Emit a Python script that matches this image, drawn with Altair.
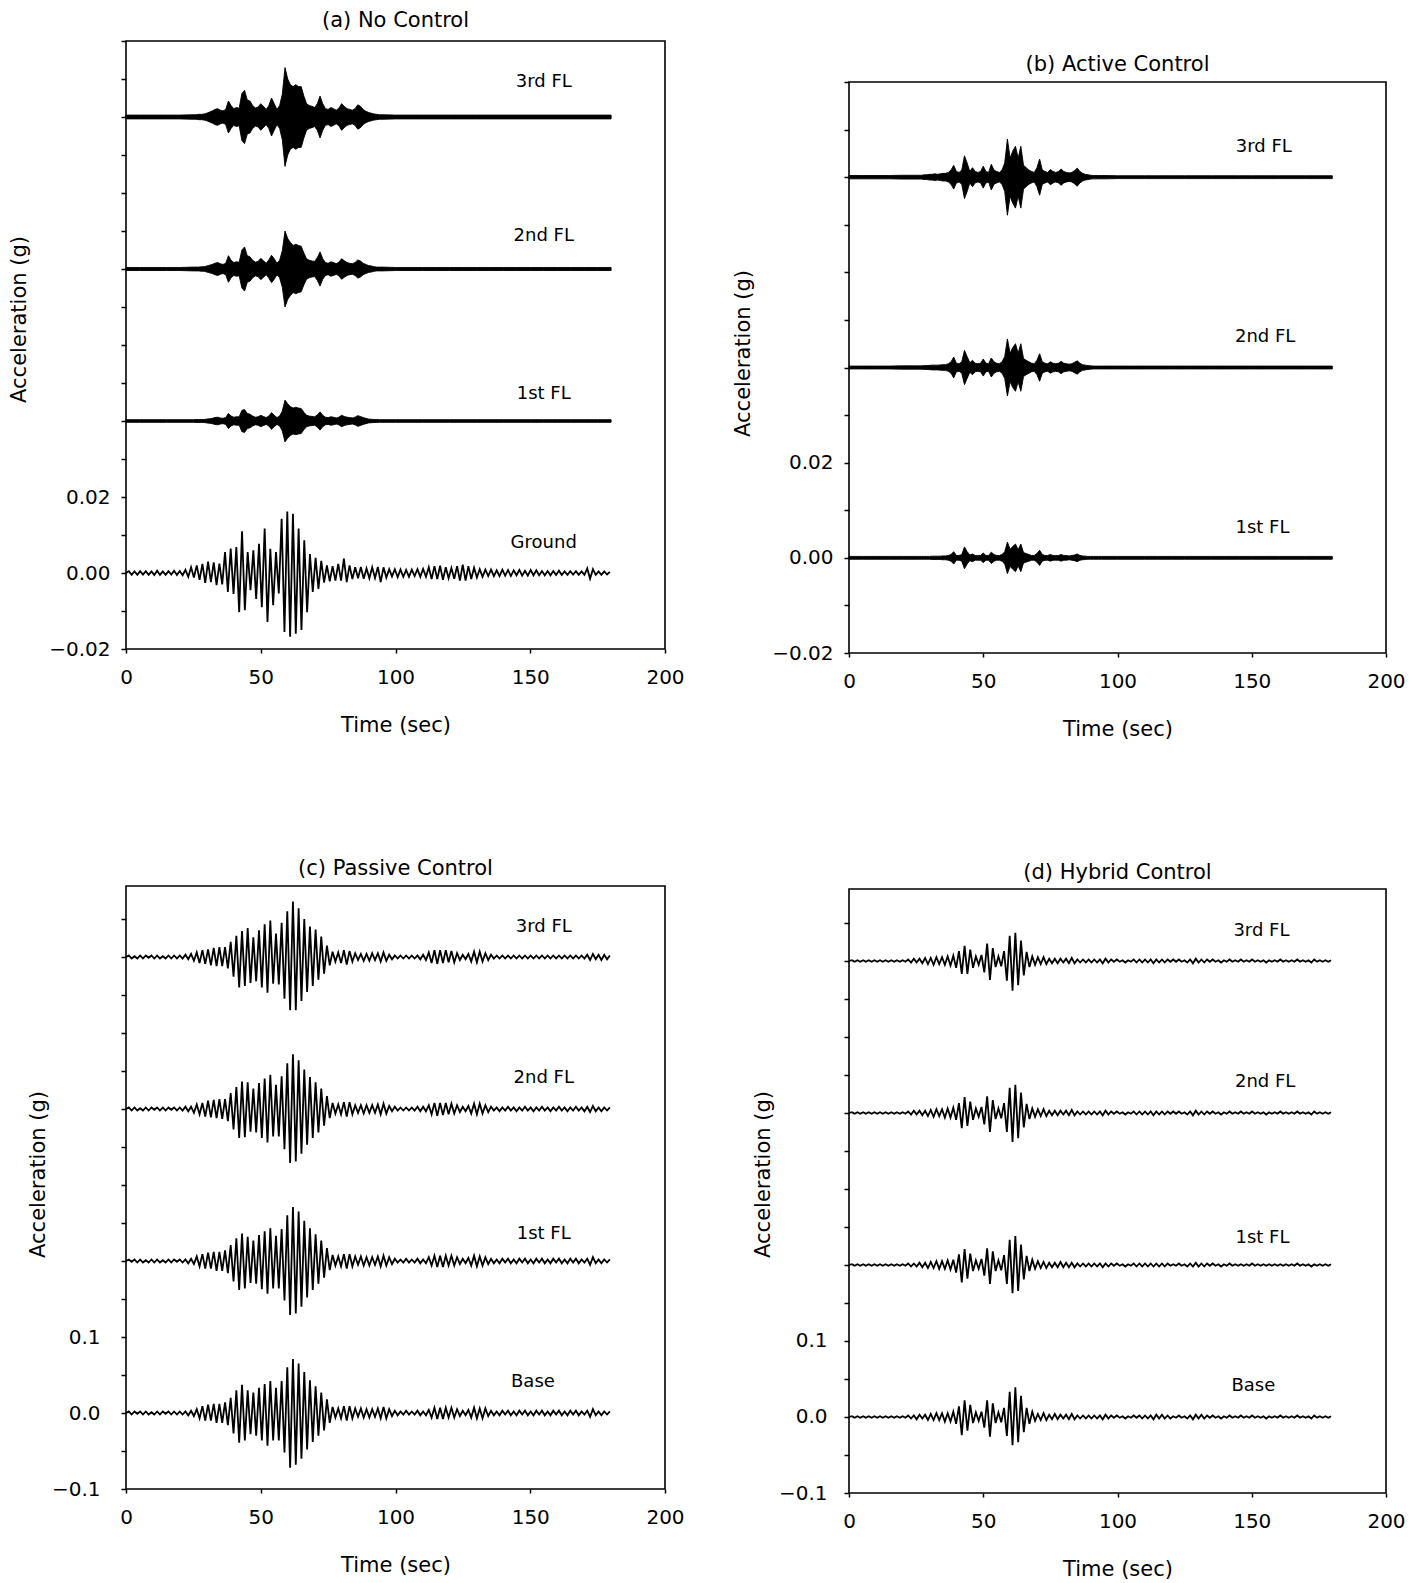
import numpy as np
import pandas as pd
import altair as alt

FONT = "DejaVu Sans"

# ---------------- data ----------------
# Oscillating records: successive peak/trough values (mg), one every OSC_DT seconds
OSC_DT = 1.05

GROUND_A = [
    0, 0.5, -0.5, 0.4, -0.5, 0.5, -0.4, 0.5, -0.5, 0.4,
    -0.5, 0.6, -0.5, 0.4, -0.5, 0.5, -0.4, 0.6, -0.5, 0.5,
    -0.6, 0.8, -1.0, 1.5, -1.2, 2.0, -1.8, 2.4, -2.6, 3.0,
    -2.4, 2.8, -3.2, 2.5, -3.0, 5.5, -5.0, 6.4, -5.5, 6.8,
    -10.3, 11.0, -9.8, 5.5, -4.5, 6.0, -6.8, 7.7, -9.0, 11.7,
    -12.9, 6.4, -8.5, 5.5, -5.4, 14.3, -15.5, 16.2, -16.8, 15.6,
    -16.0, 11.7, -15.0, 8.6, -10.3, 5.0, -5.0, 4.0, -4.2, 3.2,
    -2.5, 2.0, -2.2, 1.8, -2.0, 2.4, -2.0, 3.8, -2.4, 2.0,
    -1.6, 1.5, -1.4, 1.6, -1.5, 1.2, -1.4, 1.5, -1.3, 1.6,
    -2.4, 1.5, -1.2, 1.0, -0.9, 1.0, -1.1, 0.9, -1.0, 0.8,
    -1.0, 0.9, -0.8, 1.0, -1.0, 1.1, -1.0, 1.5, -1.6, 1.8,
    -1.6, 1.9, -1.8, 1.5, -1.4, 1.3, -1.5, 1.8, -2.0, 2.2,
    -2.0, 1.8, -1.6, 1.4, -1.2, 1.0, -1.0, 0.9, -0.8, 0.9,
    -0.8, 0.7, -0.8, 0.9, -0.7, 0.8, -0.8, 0.7, -0.6, 0.8,
    -0.7, 0.6, -0.7, 0.8, -0.6, 0.7, -0.6, 0.5, -0.6, 0.5,
    -0.6, 0.5, -0.5, 0.6, -0.5, 0.4, -0.5, 0.5, -0.4, 0.5,
    -0.5, 0.4, -0.5, 1.2, -1.5, 1.0, -0.5, 0.4, -0.5, 0.4,
    -0.4, 0.3,
]

PASSIVE_BASE = [
    0, 2, -2, 2, -1, 2, -2, 2, -2, 1,
    -2, 2, -2, 2, -1, 2, -2, 2, -2, 2,
    -2, 2, -3, 3, -4, 5, -7, 9, -10, 11,
    -10, 12, -13, 12, -13, 14, -16, 20, -27, 30,
    -39, 37, -36, 30, -28, 27, -30, 33, -36, 38,
    -43, 42, -36, 33, -36, 42, -52, 60, -72, 71,
    -68, 65, -60, 54, -48, 43, -38, 35, -30, 27,
    -23, 18, -13, 8, -6, 6, -7, 9, -10, 9,
    -7, 6, -5, 6, -6, 5, -6, 5, -5, 6,
    -7, 8, -7, 5, -4, 3, -3, 2, -2, 3,
    -2, 2, -2, 3, -3, 2, -3, 4, -6, 7,
    -8, 7, -8, 7, -6, 7, -6, 5, -4, 3,
    -3, 4, -6, 7, -7, 6, -7, 6, -4, 3,
    -3, 2, -3, 3, -2, 3, -3, 2, -3, 3,
    -2, 3, -3, 2, -3, 3, -2, 3, -3, 2,
    -3, 3, -2, 3, -3, 2, -3, 3, -2, 3,
    -3, 2, -2, 3, -5, 5, -3, 2, -3, 2,
    -2, 2,
]

PASSIVE_1ST = [
    0, 2, -1, 2, -2, 2, -2, 1, -2, 2,
    -2, 2, -2, 1, -2, 2, -2, 2, -1, 2,
    -2, 2, -3, 3, -4, 6, -7, 9, -10, 11,
    -10, 12, -13, 12, -13, 14, -16, 21, -27, 30,
    -38, 36, -36, 32, -29, 27, -30, 34, -37, 39,
    -43, 43, -36, 33, -36, 42, -52, 60, -71, 71,
    -69, 65, -60, 53, -48, 43, -38, 35, -30, 27,
    -22, 17, -12, 8, -6, 6, -7, 9, -10, 9,
    -7, 6, -5, 6, -6, 5, -6, 5, -5, 6,
    -7, 7, -6, 5, -4, 3, -2, 2, -2, 3,
    -2, 2, -2, 3, -3, 2, -3, 5, -6, 7,
    -8, 7, -8, 7, -6, 7, -6, 5, -4, 3,
    -3, 4, -6, 7, -7, 6, -6, 5, -4, 3,
    -3, 2, -3, 3, -2, 3, -3, 2, -3, 3,
    -2, 3, -3, 2, -3, 3, -2, 3, -3, 2,
    -3, 3, -2, 3, -3, 2, -3, 3, -2, 3,
    -3, 2, -2, 3, -5, 5, -3, 2, -3, 2,
    -2, 2,
]

PASSIVE_2ND = [
    0, 2, -2, 2, -2, 1, -2, 2, -2, 2,
    -1, 2, -2, 2, -2, 2, -1, 2, -2, 2,
    -2, 3, -3, 3, -5, 6, -7, 8, -10, 11,
    -11, 12, -12, 13, -13, 13, -16, 21, -27, 29,
    -38, 36, -37, 35, -30, 27, -31, 34, -38, 40,
    -44, 45, -36, 32, -36, 43, -53, 60, -71, 72,
    -69, 64, -59, 52, -47, 42, -38, 35, -31, 27,
    -22, 17, -12, 8, -6, 6, -7, 9, -10, 9,
    -7, 5, -5, 5, -6, 5, -5, 5, -5, 6,
    -7, 7, -6, 4, -3, 3, -2, 2, -2, 2,
    -2, 2, -2, 3, -3, 3, -3, 5, -7, 8,
    -9, 8, -8, 8, -7, 7, -6, 5, -4, 3,
    -3, 4, -6, 7, -7, 7, -6, 5, -4, 3,
    -2, 2, -3, 2, -2, 3, -2, 2, -3, 2,
    -2, 3, -2, 2, -3, 2, -2, 3, -2, 2,
    -3, 2, -2, 3, -2, 2, -3, 2, -2, 3,
    -2, 2, -3, 3, -4, 4, -3, 2, -3, 2,
    -2, 2,
]

PASSIVE_3RD = [
    0, 2, -2, 1, -2, 2, -2, 2, -1, 2,
    -2, 2, -2, 1, -2, 2, -2, 2, -2, 2,
    -2, 3, -3, 4, -5, 6, -8, 9, -9, 10,
    -11, 12, -12, 13, -12, 13, -15, 20, -26, 28,
    -40, 34, -38, 38, -34, 26, -32, 35, -40, 43,
    -47, 48, -35, 31, -36, 45, -55, 60, -70, 73,
    -70, 64, -58, 50, -46, 40, -38, 36, -30, 27,
    -22, 15, -11, 7, -6, 6, -8, 9, -10, 8,
    -6, 5, -4, 4, -5, 4, -5, 5, -4, 5,
    -6, 6, -5, 3, -3, 2, -2, 2, -2, 2,
    -2, 2, -2, 2, -3, 3, -4, 6, -8, 9,
    -9, 9, -8, 9, -7, 8, -7, 5, -4, 3,
    -3, 4, -6, 7, -7, 7, -6, 5, -4, 3,
    -2, 2, -2, 2, -2, 2, -2, 2, -2, 2,
    -2, 2, -2, 2, -2, 2, -2, 2, -2, 2,
    -2, 2, -2, 2, -2, 2, -2, 2, -2, 2,
    -2, 2, -2, 3, -4, 4, -3, 3, -4, 3,
    -3, 2,
]

HYBRID_BASE = [
    0, 1, -1, 1, -1, 1, -1, 1, -1, 1,
    -1, 1, -1, 1, -1, 1, -1, 1, -1, 1,
    -1, 2, -2, 2, -3, 3, -2, 3, -4, 4,
    -4, 5, -4, 5, -6, 5, -6, 7, -9, 14,
    -24, 22, -18, 16, -8, 6, -5, 7, -14, 22,
    -26, 18, -8, 6, -7, 12, -25, 33, -37, 39,
    -33, 28, -20, 12, -9, 7, -5, 4, -4, 5,
    -4, 3, -3, 4, -3, 3, -2, 3, -3, 4,
    -3, 2, -2, 2, -2, 2, -2, 2, -2, 2,
    -3, 3, -2, 2, -1, 2, -1, 1, -2, 1,
    -1, 2, -1, 2, -2, 2, -2, 2, -3, 3,
    -2, 3, -2, 2, -2, 1, -1, 2, -1, 1,
    -2, 2, -3, 3, -2, 3, -2, 2, -1, 2,
    -1, 1, -2, 1, -1, 2, -1, 1, -1, 2,
    -1, 1, -1, 2, -1, 1, -1, 1, -2, 1,
    -1, 1, -1, 2, -1, 1, -1, 1, -1, 2,
    -1, 1, -1, 1, -2, 2, -1, 1, -1, 1,
    -1, 1,
]

HYBRID_1ST = [
    0, 1, -1, 1, -1, 1, -1, 1, -1, 1,
    -1, 1, -1, 1, -1, 1, -1, 1, -1, 1,
    -1, 2, -2, 2, -2, 3, -3, 3, -4, 4,
    -4, 5, -5, 5, -5, 6, -6, 7, -10, 14,
    -23, 21, -18, 15, -8, 6, -5, 8, -14, 22,
    -25, 18, -8, 6, -7, 13, -25, 33, -37, 38,
    -34, 27, -19, 12, -8, 7, -5, 5, -4, 4,
    -4, 3, -3, 3, -3, 4, -3, 3, -3, 3,
    -3, 2, -2, 2, -2, 2, -2, 2, -2, 2,
    -3, 2, -2, 2, -1, 2, -1, 1, -2, 1,
    -1, 2, -2, 2, -2, 2, -2, 2, -2, 2,
    -2, 2, -2, 2, -1, 1, -1, 2, -1, 1,
    -2, 2, -2, 3, -2, 2, -2, 2, -1, 2,
    -1, 1, -2, 1, -1, 2, -1, 1, -1, 1,
    -1, 1, -1, 2, -1, 1, -1, 1, -1, 1,
    -1, 1, -1, 1, -1, 1, -1, 1, -1, 2,
    -1, 1, -1, 1, -2, 1, -1, 1, -1, 1,
    -1, 1,
]

HYBRID_2ND = [
    0, 1, -1, 1, -1, 1, -1, 1, -1, 1,
    -1, 1, -1, 1, -1, 1, -1, 1, -1, 1,
    -1, 2, -2, 3, -2, 3, -3, 3, -4, 4,
    -5, 5, -4, 5, -6, 6, -6, 7, -9, 13,
    -20, 21, -17, 15, -9, 6, -5, 8, -15, 22,
    -25, 17, -8, 6, -7, 13, -25, 33, -38, 37,
    -33, 27, -19, 12, -8, 6, -5, 5, -4, 5,
    -4, 3, -3, 3, -3, 3, -2, 3, -3, 4,
    -3, 2, -2, 2, -2, 2, -2, 2, -2, 2,
    -3, 3, -2, 2, -1, 2, -1, 1, -2, 1,
    -1, 2, -2, 2, -2, 2, -2, 2, -3, 2,
    -2, 2, -2, 2, -1, 2, -1, 2, -1, 1,
    -2, 2, -3, 3, -2, 2, -2, 2, -1, 2,
    -1, 1, -2, 1, -1, 2, -1, 1, -1, 2,
    -1, 1, -1, 2, -1, 1, -1, 1, -2, 1,
    -1, 1, -1, 2, -1, 1, -1, 1, -1, 2,
    -1, 1, -1, 1, -2, 2, -1, 1, -1, 1,
    -1, 1,
]

HYBRID_3RD = [
    0, 1, -1, 1, -1, 1, -1, 1, -1, 1,
    -1, 1, -1, 1, -1, 1, -1, 1, -1, 1,
    -1, 2, -2, 3, -2, 3, -3, 4, -4, 4,
    -5, 5, -4, 5, -5, 6, -6, 7, -9, 13,
    -17, 20, -17, 15, -9, 6, -5, 8, -15, 23,
    -25, 17, -8, 6, -7, 13, -26, 33, -39, 37,
    -32, 27, -19, 12, -8, 6, -5, 5, -4, 5,
    -4, 3, -3, 3, -3, 3, -2, 3, -3, 4,
    -3, 2, -2, 2, -2, 2, -2, 2, -2, 2,
    -3, 3, -2, 2, -1, 2, -1, 1, -2, 1,
    -1, 2, -2, 2, -2, 2, -2, 2, -3, 2,
    -2, 2, -2, 2, -1, 2, -1, 2, -1, 1,
    -2, 2, -3, 3, -2, 2, -2, 2, -1, 2,
    -1, 1, -2, 1, -1, 2, -1, 1, -1, 2,
    -1, 1, -1, 2, -1, 1, -1, 1, -2, 1,
    -1, 1, -1, 2, -1, 1, -1, 1, -1, 2,
    -1, 1, -1, 1, -2, 2, -1, 1, -1, 1,
    -1, 1,
]

# Dense (high-frequency) records: half-width of the black band (mg) at ENV_T seconds
ENV_T = [0, 5, 10, 15, 20, 25] + list(range(26, 96)) + list(range(100, 181, 5))

NOCTRL_3RD = [
    0.5, 0.5, 0.5, 0.5, 0.5, 0.6,
    0.6, 0.7, 0.7, 0.8, 1.0, 1.3, 1.6, 2.0, 2.2, 1.8,
    1.6, 2.0, 4.2, 3.0, 2.2, 2.5, 2.3, 6.2, 7.0, 4.5,
    4.2, 3.0, 2.4, 2.6, 3.5, 2.8, 2.0, 3.0, 5.0, 3.5,
    2.0, 3.0, 6.0, 13.0, 10.0, 8.5, 8.0, 8.5, 8.0, 8.0,
    5.5, 3.5, 3.0, 2.8, 2.5, 3.5, 5.5, 3.5, 2.2, 2.0,
    2.5, 2.2, 1.8, 2.3, 3.5, 2.8, 2.2, 2.0, 1.8, 2.2,
    3.2, 2.8, 2.0, 1.5, 1.2, 1.0, 0.8, 0.7, 0.6, 0.6,
    0.5, 0.5, 0.5, 0.5, 0.5, 0.5, 0.5, 0.5, 0.5, 0.5, 0.5, 0.5, 0.5, 0.5, 0.5, 0.5, 0.5,
]
NOCTRL_2ND = [
    0.4, 0.4, 0.4, 0.4, 0.4, 0.5,
    0.5, 0.5, 0.6, 0.6, 0.8, 1.0, 1.2, 1.5, 1.7, 1.4,
    1.2, 1.5, 3.5, 2.3, 1.7, 1.9, 1.8, 5.0, 5.8, 3.5,
    3.2, 2.3, 1.8, 2.0, 2.8, 2.2, 1.5, 2.4, 3.6, 2.7,
    1.5, 2.3, 4.8, 10.0, 8.0, 7.0, 6.2, 6.5, 6.2, 6.0,
    4.2, 2.7, 2.3, 2.1, 2.0, 3.0, 4.5, 2.7, 1.7, 1.5,
    1.9, 1.7, 1.4, 1.8, 2.7, 2.2, 1.7, 1.5, 1.4, 1.7,
    2.4, 2.1, 1.5, 1.2, 0.9, 0.8, 0.6, 0.5, 0.5, 0.5,
    0.4, 0.4, 0.4, 0.4, 0.4, 0.4, 0.4, 0.4, 0.4, 0.4, 0.4, 0.4, 0.4, 0.4, 0.4, 0.4, 0.4,
]
NOCTRL_1ST = [
    0.35, 0.35, 0.35, 0.35, 0.35, 0.35,
    0.4, 0.4, 0.4, 0.4, 0.5, 0.6, 0.7, 0.9, 1.0, 0.8,
    0.7, 0.9, 2.0, 1.3, 1.0, 1.1, 1.1, 2.8, 3.0, 2.0,
    1.8, 1.3, 1.0, 1.1, 1.5, 1.2, 0.9, 1.3, 2.2, 1.5,
    0.9, 1.3, 2.6, 5.5, 4.5, 3.8, 3.4, 3.6, 3.4, 3.3,
    2.3, 1.5, 1.3, 1.2, 1.1, 1.6, 2.4, 1.5, 1.0, 0.9,
    1.1, 1.0, 0.8, 1.0, 1.5, 1.2, 1.0, 0.9, 0.8, 1.0,
    1.4, 1.2, 0.9, 0.7, 0.5, 0.45, 0.4, 0.4, 0.35, 0.35,
    0.35, 0.35, 0.35, 0.35, 0.35, 0.35, 0.35, 0.35, 0.35, 0.35, 0.35, 0.35, 0.35, 0.35, 0.35, 0.35, 0.35,
]
ACTIVE_3RD = [
    0.35, 0.35, 0.35, 0.35, 0.4, 0.4,
    0.4, 0.4, 0.5, 0.5, 0.6, 0.6, 0.7, 0.6, 0.7, 0.8,
    0.8, 1.0, 1.5, 2.5, 1.2, 1.0, 1.5, 4.5, 3.0, 1.2,
    2.0, 1.2, 1.0, 1.2, 2.3, 1.2, 1.0, 2.7, 1.5, 1.2,
    1.0, 1.5, 3.0, 8.0, 4.0, 5.5, 6.5, 4.0, 6.5, 2.5,
    2.0, 1.5, 1.2, 1.0, 2.0, 3.8, 1.5, 1.2, 1.0, 1.6,
    1.2, 1.0, 1.2, 1.7, 1.2, 1.0, 0.9, 1.0, 1.4, 1.9,
    1.2, 0.8, 0.6, 0.5, 0.4, 0.35, 0.35, 0.35, 0.35, 0.35,
    0.3, 0.3, 0.3, 0.3, 0.3, 0.3, 0.3, 0.3, 0.3, 0.3, 0.3, 0.3, 0.3, 0.3, 0.3, 0.3, 0.3,
]
ACTIVE_2ND = [
    0.3, 0.3, 0.3, 0.3, 0.35, 0.35,
    0.35, 0.35, 0.4, 0.4, 0.45, 0.5, 0.5, 0.5, 0.55, 0.6,
    0.6, 0.8, 1.2, 2.2, 0.9, 0.8, 1.2, 3.6, 2.3, 1.0,
    1.5, 0.9, 0.8, 0.9, 1.8, 0.9, 0.8, 2.0, 1.2, 0.9,
    0.8, 1.2, 2.3, 6.0, 3.0, 4.2, 5.0, 3.0, 5.0, 1.9,
    1.5, 1.2, 0.9, 0.8, 1.5, 2.9, 1.2, 0.9, 0.8, 1.2,
    0.9, 0.8, 0.9, 1.3, 0.9, 0.8, 0.7, 0.8, 1.1, 1.4,
    0.9, 0.6, 0.5, 0.4, 0.35, 0.3, 0.3, 0.3, 0.3, 0.3,
    0.3, 0.3, 0.3, 0.3, 0.3, 0.3, 0.3, 0.3, 0.3, 0.3, 0.3, 0.3, 0.3, 0.3, 0.3, 0.3, 0.3,
]
ACTIVE_1ST = [
    0.3, 0.3, 0.3, 0.3, 0.3, 0.3,
    0.3, 0.3, 0.3, 0.3, 0.3, 0.35, 0.35, 0.35, 0.35, 0.4,
    0.4, 0.5, 0.7, 1.3, 0.5, 0.5, 0.7, 2.3, 1.3, 0.6,
    0.8, 0.5, 0.5, 0.5, 1.0, 0.5, 0.5, 1.2, 0.7, 0.5,
    0.5, 0.7, 1.3, 3.3, 1.8, 2.4, 2.9, 1.7, 2.9, 1.1,
    0.9, 0.7, 0.5, 0.5, 0.9, 1.6, 0.7, 0.5, 0.5, 0.7,
    0.5, 0.5, 0.5, 0.7, 0.5, 0.5, 0.4, 0.5, 0.6, 0.8,
    0.5, 0.4, 0.35, 0.3, 0.3, 0.3, 0.3, 0.3, 0.3, 0.3,
    0.3, 0.3, 0.3, 0.3, 0.3, 0.3, 0.3, 0.3, 0.3, 0.3, 0.3, 0.3, 0.3, 0.3, 0.3, 0.3, 0.3,
]

MG = 0.001  # values above are in milli-g

# ---------------- helpers ----------------
def osc_frame(name, values, offset):
    v = np.asarray(values, dtype=float) * MG
    return pd.DataFrame({"t": np.arange(len(v)) * OSC_DT, "y": offset + v, "trace": name})


def env_frame(name, amps, offset):
    n = min(len(amps), len(ENV_T))
    a = np.asarray(amps[:n], dtype=float) * MG
    return pd.DataFrame({"t": ENV_T[:n], "lo": offset - a, "hi": offset + a, "trace": name})


def xenc(field):
    return alt.X(
        f"{field}:Q",
        scale=alt.Scale(domain=[0, 200], nice=False, zero=False),
        axis=alt.Axis(
            values=[0, 50, 100, 150, 200], format="d", title="Time (sec)",
            titleY=76, titleBaseline="middle", titleAlign="center",
            tickSize=4, labelPadding=14, grid=False, domain=False, labelFlush=False,
        ),
    )


def yenc(field, dom, top, step, major, fmt, tx, ty, lpad):
    n = int(np.floor((top - dom[0]) / step + 1e-6))
    ticks = [round(dom[0] + k * step, 4) + 0.0 for k in range(n + 1)]
    expr = (f"(abs(abs(datum.value) - {major}) < 1e-6 || abs(datum.value) < 1e-6)"
            f" ? format(datum.value, '{fmt}') : ''")
    return alt.Y(
        f"{field}:Q",
        scale=alt.Scale(domain=dom, nice=False, zero=False),
        axis=alt.Axis(
            values=ticks, labelExpr=expr, title="Acceleration (g)",
            titleX=tx, titleY=ty, titleAngle=270, titleAlign="center", titleBaseline="middle",
            tickSize=5, labelPadding=lpad, grid=False, domain=False, labelFlush=False,
        ),
    )


def panel(title, title_y, width, height, dom, top, step, major, fmt, tx, ty, lpad,
          lines=None, areas=None, labels=None):
    Y = lambda f: yenc(f, dom, top, step, major, fmt, tx, ty, lpad)
    frame = pd.DataFrame({"x0": [0.0], "x1": [200.0], "y0": [dom[0]], "y1": [top]})
    layers = [
        alt.Chart(frame).mark_rect(fillOpacity=0, stroke="black", strokeWidth=1.6).encode(
            x=xenc("x0"), x2="x1:Q", y=Y("y0"), y2="y1:Q")
    ]
    if areas is not None:
        layers.append(
            alt.Chart(areas).mark_area(color="black", stroke="black", strokeWidth=0.9,
                                       interpolate="linear").encode(
                x=xenc("t"), y=Y("lo"), y2="hi:Q", detail="trace:N")
        )
    if lines is not None:
        layers.append(
            alt.Chart(lines).mark_line(color="black", strokeWidth=1.8,
                                       interpolate="linear").encode(
                x=xenc("t"), y=Y("y"), detail="trace:N")
        )
    layers.append(
        alt.Chart(labels).mark_text(font=FONT, fontSize=18, color="black",
                                    align="center", baseline="middle").encode(
            x=xenc("t"), y=Y("y"), text="label:N")
    )
    ttl = pd.DataFrame({"t": [100.0], "y": [title_y], "label": [title]})
    layers.append(
        alt.Chart(ttl).mark_text(font=FONT, fontSize=21, color="black",
                                 align="center", baseline="middle").encode(
            x=xenc("t"), y=Y("y"), text="label:N")
    )
    return alt.layer(*layers).properties(width=width, height=height)


# ---------------- panels ----------------
a_lines = osc_frame("Ground", GROUND_A, 0.0)
a_areas = pd.concat([
    env_frame("1st FL", NOCTRL_1ST, 0.04),
    env_frame("2nd FL", NOCTRL_2ND, 0.08),
    env_frame("3rd FL", NOCTRL_3RD, 0.12),
])
a_labels = pd.DataFrame({"t": [155, 155, 155, 155],
                         "y": [0.1292, 0.0887, 0.0472, 0.0079],
                         "label": ["3rd FL", "2nd FL", "1st FL", "Ground"]})
pa = panel("(a) No Control", 0.14526, 539, 608, [-0.02, 0.14], 0.14, 0.01, 0.02, ".2f",
           -107, 278, 11, lines=a_lines, areas=a_areas, labels=a_labels)

b_areas = pd.concat([
    env_frame("1st FL", ACTIVE_1ST, 0.0),
    env_frame("2nd FL", ACTIVE_2ND, 0.04),
    env_frame("3rd FL", ACTIVE_3RD, 0.08),
])
b_labels = pd.DataFrame({"t": [154.5, 155, 154],
                         "y": [0.0863, 0.0464, 0.0063],
                         "label": ["3rd FL", "2nd FL", "1st FL"]})
pb = panel("(b) Active Control", 0.10366, 537, 612, [-0.02, 0.10862], 0.10, 0.01, 0.02, ".2f",
           -106, 312, 11, areas=b_areas, labels=b_labels)

c_lines = pd.concat([
    osc_frame("Base", PASSIVE_BASE, 0.0),
    osc_frame("1st FL", PASSIVE_1ST, 0.2),
    osc_frame("2nd FL", PASSIVE_2ND, 0.4),
    osc_frame("3rd FL", PASSIVE_3RD, 0.6),
])
c_labels = pd.DataFrame({"t": [155, 155, 155, 151],
                         "y": [0.640, 0.441, 0.235, 0.0413],
                         "label": ["3rd FL", "2nd FL", "1st FL", "Base"]})
pc = panel("(c) Passive Control", 0.7158, 539, 608, [-0.1, 0.7], 0.6934, 0.05, 0.1, ".1f",
           -88, 293, 21, lines=c_lines, labels=c_labels)

d_lines = pd.concat([
    osc_frame("Base", HYBRID_BASE, 0.0),
    osc_frame("1st FL", HYBRID_1ST, 0.2),
    osc_frame("2nd FL", HYBRID_2ND, 0.4),
    osc_frame("3rd FL", HYBRID_3RD, 0.6),
])
d_labels = pd.DataFrame({"t": [153.6, 155, 154, 150.6],
                         "y": [0.639, 0.441, 0.236, 0.041],
                         "label": ["3rd FL", "2nd FL", "1st FL", "Base"]})
pdd = panel("(d) Hybrid Control", 0.7158, 537, 612, [-0.1, 0.70526], 0.6947, 0.05, 0.1, ".1f",
            -86, 293, 17, lines=d_lines, labels=d_labels)

chart = alt.concat(
    pa, pb, pc, pdd, columns=2, spacing={"row": 228, "column": 184}, bounds="flush"
).properties(
    padding={"left": 0, "top": 2, "right": 5, "bottom": 5}
).configure_view(
    strokeWidth=0
).configure_axis(
    labelFont=FONT, labelFontSize=20, labelColor="black",
    titleFont=FONT, titleFontSize=21, titleFontWeight="normal", titleColor="black",
    tickColor="black", tickWidth=1.5,
)

chart.save("out.html", embed_options={"renderer": "svg", "actions": False})
